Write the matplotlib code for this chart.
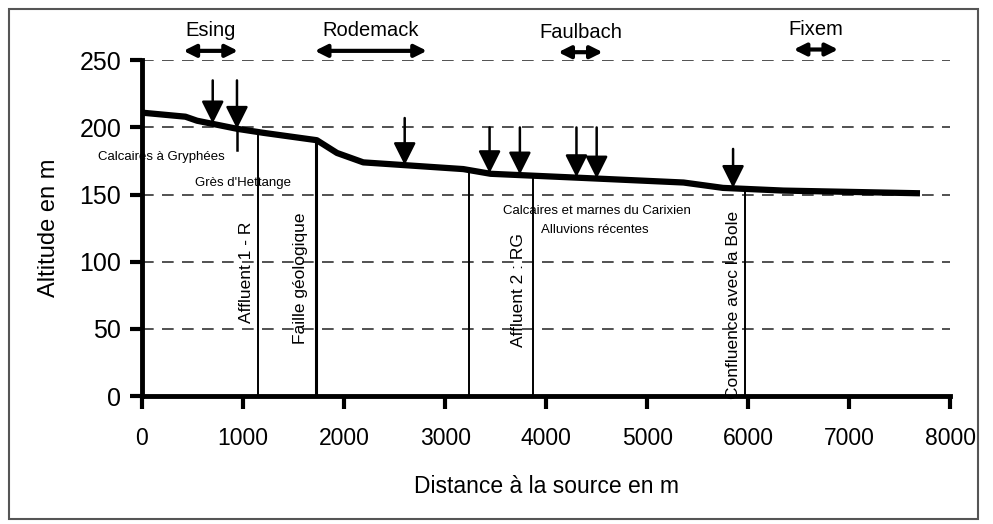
import numpy as np
import matplotlib
matplotlib.use("Agg")
import matplotlib.pyplot as plt
from matplotlib.patches import Rectangle

# -- data --
dist = [0, 430, 545, 940, 1200, 1730, 1930, 2190, 3180, 3450, 4340, 5360, 5750, 6350, 7700]
alt = [211, 208, 205, 199, 196, 190.5, 181, 174, 169, 165.5, 162.5, 159, 155, 153, 151]

# vertical markers (affluents, faille, confluence)
vline_x = [1150, 1720, 3240, 3870, 5970]
vline_lw = [1.4, 2.2, 1.4, 1.4, 1.4]

# down arrows: x, shaft top, head tip, shaft bottom
arrow_x = [700, 940, 2600, 3440, 3740, 4300, 4500, 5850]
arrow_top = [235, 235, 207, 200, 200, 200, 200, 184]
arrow_tip = [203, 199, 172, 166, 165, 163, 162, 155]
arrow_bottom = [203, 183, 172, 166, 165, 163, 162, 155]

# villages (double arrows)
towns = ["Esing", "Rodemack", "Faulbach", "Fixem"]
town_start = [410, 1710, 4120, 6450]
town_end = [950, 2820, 4560, 6890]
town_arrow_y = [257, 257, 256, 258]

# geology labels
geo_labels = ["Calcaires à Gryphées", "Grès d'Hettange",
              "Calcaires et marnes du Carixien", "Alluvions récentes"]
geo_x = [190, 1000, 4505, 4485]
geo_y = [178, 158.5, 137.5, 124]

# rotated labels
rot_labels = ["Affluent 1 - R", "Faille géologique", "Affluent 2 : RG",
              "Confluence avec la Bole"]
rot_x = [1030, 1565, 3730, 5850]
rot_y = [92, 88, 79, 68]

xticks = [0, 1000, 2000, 3000, 4000, 5000, 6000, 7000, 8000]
yticks = [0, 50, 100, 150, 200, 250]


def main():
    plt.rcParams['font.family'] = ['Liberation Sans', 'DejaVu Sans']
    fig = plt.figure(figsize=(9.93, 5.24), dpi=100)
    ax = fig.add_axes([0.143, 0.244, 0.814, 0.641])

    # -- outer frame --
    fig.patches.append(Rectangle((0.009, 0.01), 0.976, 0.972, transform=fig.transFigure,
                                 fill=False, edgecolor='#555555', lw=1.5))

    # -- grid --
    for y in yticks[1:]:
        ax.axhline(y, color='#333333', lw=1.2, ls=(0, (7, 5)), zorder=1)

    # -- profile --
    ax.plot(dist, alt, color='black', lw=4.5, solid_capstyle='butt', zorder=4)

    for x, lw in zip(vline_x, vline_lw):
        ax.plot([x, x], [0, np.interp(x, dist, alt)], color='black', lw=lw, zorder=3)

    for x, top, tip, bot in zip(arrow_x, arrow_top, arrow_tip, arrow_bottom):
        if bot < tip:
            ax.plot([x, x], [tip, bot], color='black', lw=1.8, zorder=3)
        ax.annotate('', xy=(x, tip), xytext=(x, top),
                    arrowprops=dict(arrowstyle='-|>', lw=1.8, color='black',
                                    mutation_scale=34, shrinkA=0, shrinkB=0),
                    annotation_clip=False, zorder=5)

    for name, x0, x1, y in zip(towns, town_start, town_end, town_arrow_y):
        ax.annotate('', xy=(x1, y), xytext=(x0, y),
                    arrowprops=dict(arrowstyle='<|-|>', lw=3, color='black',
                                    mutation_scale=18, shrinkA=0, shrinkB=0),
                    annotation_clip=False)
        ax.text((x0 + x1) / 2, y + 15, name, ha='center', va='center',
                fontsize=14.5, clip_on=False)

    for s, x, y in zip(geo_labels, geo_x, geo_y):
        ax.text(x, y, s, ha='center', va='center', fontsize=9.5, zorder=6)

    for s, x, y in zip(rot_labels, rot_x, rot_y):
        ax.text(x, y, s, ha='center', va='center', rotation=90, fontsize=12.5, zorder=6)

    # -- axes --
    ax.set_xlim(0, 8000)
    ax.set_ylim(0, 250)
    ax.set_xticks(xticks)
    ax.set_yticks(yticks)
    ax.tick_params(axis='both', width=3, length=9, direction='out')
    ax.tick_params(axis='x', labelsize=16.5, pad=13)
    ax.tick_params(axis='y', labelsize=18, pad=6)
    ax.spines['top'].set_visible(False)
    ax.spines['right'].set_visible(False)
    ax.spines['left'].set_linewidth(3.5)
    ax.spines['bottom'].set_linewidth(3.5)
    ax.set_xlabel("Distance à la source en m", fontsize=16.5, labelpad=18)
    ax.set_ylabel("Altitude en m", fontsize=17, labelpad=14)

    plt.savefig("out.png", dpi=100)
    plt.close("all")


if __name__ == "__main__":
    main()
